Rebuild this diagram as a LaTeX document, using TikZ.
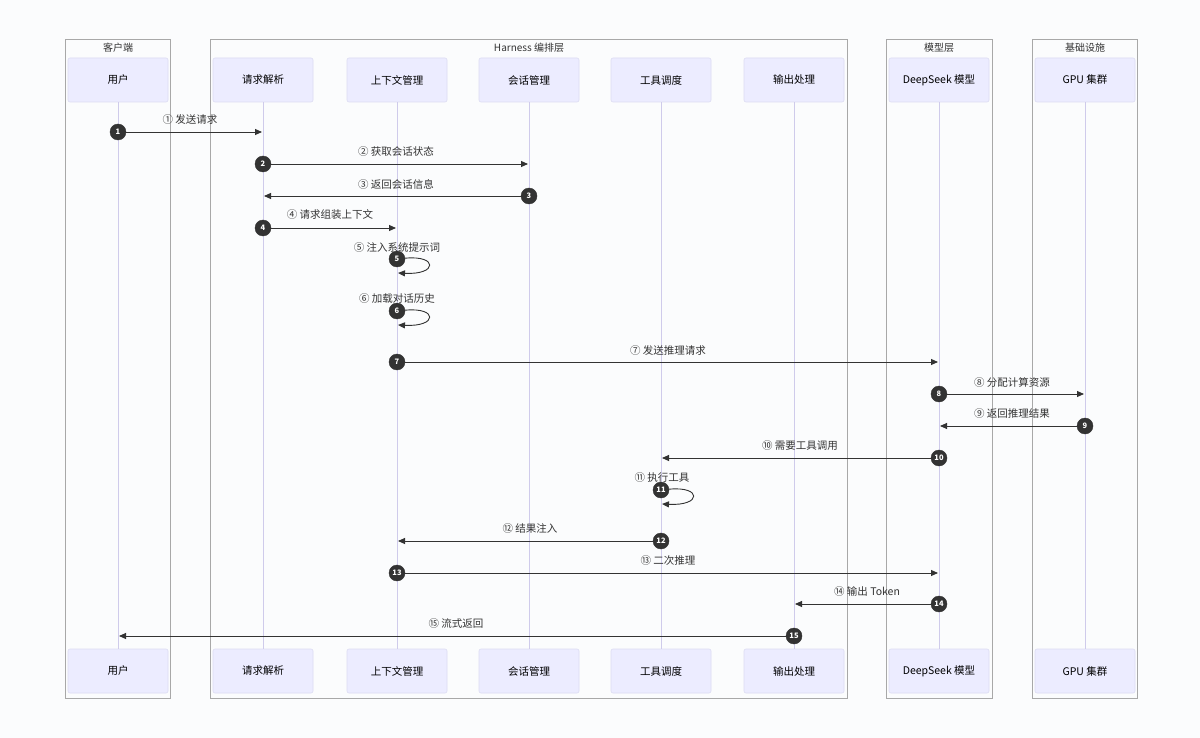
\documentclass[tikz,border=0pt]{standalone}
\usepackage{fontspec}
\setmainfont{Noto Sans CJK SC}
\usetikzlibrary{arrows.meta}
\definecolor{bg}{HTML}{FBFCFD}
\definecolor{grp}{HTML}{A8A8A8}
\definecolor{actfill}{HTML}{ECECFF}
\definecolor{actdraw}{HTML}{DCDCF2}
\definecolor{life}{HTML}{CFCBEB}
\definecolor{ink}{HTML}{333333}
\tikzset{
  group/.style={draw=grp, line width=0.8pt},
  grplabel/.style={text=ink, font=\fontsize{10}{12}\selectfont, inner sep=0pt},
  actor/.style={draw=actdraw, fill=actfill, rounded corners=2pt, minimum width=100pt, minimum height=44pt, text=black, font=\fontsize{10.5}{12}\selectfont, inner sep=0pt, line width=0.6pt},
  lifeline/.style={draw=life, line width=0.9pt},
  msg/.style={draw=ink, line width=0.9pt, -{Triangle[length=7pt,width=6pt]}},
  num/.style={circle, fill=ink, draw=ink, minimum size=16pt, inner sep=0pt, text=white, font=\fontsize{7.5}{8}\selectfont\bfseries},
  lbl/.style={text=ink, font=\fontsize{10.5}{12}\selectfont, inner sep=0pt},
}
\begin{document}
\begin{tikzpicture}[x=1pt,y=-1pt]
\fill[bg] (0,0) rectangle (1200,738);
\useasboundingbox (0,0) rectangle (1200,738);
% groups
\draw[group] (65,39) rectangle (170,698);
\draw[group] (210,39) rectangle (847,698);
\draw[group] (886,39) rectangle (992,698);
\draw[group] (1032,39) rectangle (1137,698);
\node[grplabel] (g1) at (118,48) {客户端};
\node[grplabel] (g2) at (529,48) {Harness 编排层};
\node[grplabel] (g3) at (939,48) {模型层};
\node[grplabel] (g4) at (1085,48) {基础设施};
% actors top
\node[actor] (aT) at (118,80) {用户};
\node[actor] (bT) at (263,80) {请求解析};
\node[actor] (cT) at (397,80) {上下文管理};
\node[actor] (dT) at (529,80) {会话管理};
\node[actor] (eT) at (661,80) {工具调度};
\node[actor] (fT) at (794,80) {输出处理};
\node[actor] (gT) at (939,80) {DeepSeek 模型};
\node[actor] (hT) at (1085,80) {GPU 集群};
% actors bottom
\node[actor] (aB) at (118,671) {用户};
\node[actor] (bB) at (263,671) {请求解析};
\node[actor] (cB) at (397,671) {上下文管理};
\node[actor] (dB) at (529,671) {会话管理};
\node[actor] (eB) at (661,671) {工具调度};
\node[actor] (fB) at (794,671) {输出处理};
\node[actor] (gB) at (939,671) {DeepSeek 模型};
\node[actor] (hB) at (1085,671) {GPU 集群};
% lifelines
\foreach \n in {a,b,c,d,e,f,g,h}{
  \draw[lifeline] (\n T.south) -- (\n B.north);
}
% messages
% 1
\node[num] (m1) at (118,132) {1};
\coordinate (e1) at (262,132);
\draw[msg] (m1) -- (e1);
\node[lbl] (l1) at (190,120) {① 发送请求};
% 2
\node[num] (m2) at (263,164) {2};
\coordinate (e2) at (528,164);
\draw[msg] (m2) -- (e2);
\node[lbl] (l2) at (396,152) {② 获取会话状态};
% 3
\node[num] (m3) at (529,196) {3};
\coordinate (e3) at (264,196);
\draw[msg] (m3) -- (e3);
\node[lbl] (l3) at (396,184) {③ 返回会话信息};
% 4
\node[num] (m4) at (263,228) {4};
\coordinate (e4) at (396,228);
\draw[msg] (m4) -- (e4);
\node[lbl] (l4) at (330,215) {④ 请求组装上下文};
% 5
\node[lbl] (l5) at (397,248) {⑤ 注入系统提示词};
\node[num] (m5) at (397,259) {5};
\coordinate (e5) at (398,273);
\draw[msg] (m5) .. controls (438,255) and (438,275) .. (e5);
% 6
\node[lbl] (l6) at (397,299) {⑥ 加载对话历史};
\node[num] (m6) at (397,311) {6};
\coordinate (e6) at (398,325);
\draw[msg] (m6) .. controls (438,307) and (438,327) .. (e6);
% 7
\node[num] (m7) at (397,362) {7};
\coordinate (e7) at (938,362);
\draw[msg] (m7) -- (e7);
\node[lbl] (l7) at (668,351) {⑦ 发送推理请求};
% 8
\node[num] (m8) at (939,394) {8};
\coordinate (e8) at (1084,394);
\draw[msg] (m8) -- (e8);
\node[lbl] (l8) at (1012,383) {⑧ 分配计算资源};
% 9
\node[num] (m9) at (1085,426) {9};
\coordinate (e9) at (940,426);
\draw[msg] (m9) -- (e9);
\node[lbl] (l9) at (1012,414) {⑨ 返回推理结果};
% 10
\node[num] (m10) at (939,458) {10};
\coordinate (e10) at (662,458);
\draw[msg] (m10) -- (e10);
\node[lbl] (l10) at (800,446) {⑩ 需要工具调用};
% 11
\node[lbl] (l11) at (662,478) {⑪ 执行工具};
\node[num] (m11) at (661,490) {11};
\coordinate (e11) at (662,504);
\draw[msg] (m11) .. controls (702,486) and (702,506) .. (e11);
% 12
\node[num] (m12) at (661,541) {12};
\coordinate (e12) at (398,541);
\draw[msg] (m12) -- (e12);
\node[lbl] (l12) at (530,529) {⑫ 结果注入};
% 13
\node[num] (m13) at (397,573) {13};
\coordinate (e13) at (938,573);
\draw[msg] (m13) -- (e13);
\node[lbl] (l13) at (668,561) {⑬ 二次推理};
% 14
\node[num] (m14) at (939,604) {14};
\coordinate (e14) at (795,604);
\draw[msg] (m14) -- (e14);
\node[lbl] (l14) at (867,592) {⑭ 输出 Token};
% 15
\node[num] (m15) at (794,636) {15};
\coordinate (e15) at (119,636);
\draw[msg] (m15) -- (e15);
\node[lbl] (l15) at (456,624) {⑮ 流式返回};
\end{tikzpicture}
\end{document}
